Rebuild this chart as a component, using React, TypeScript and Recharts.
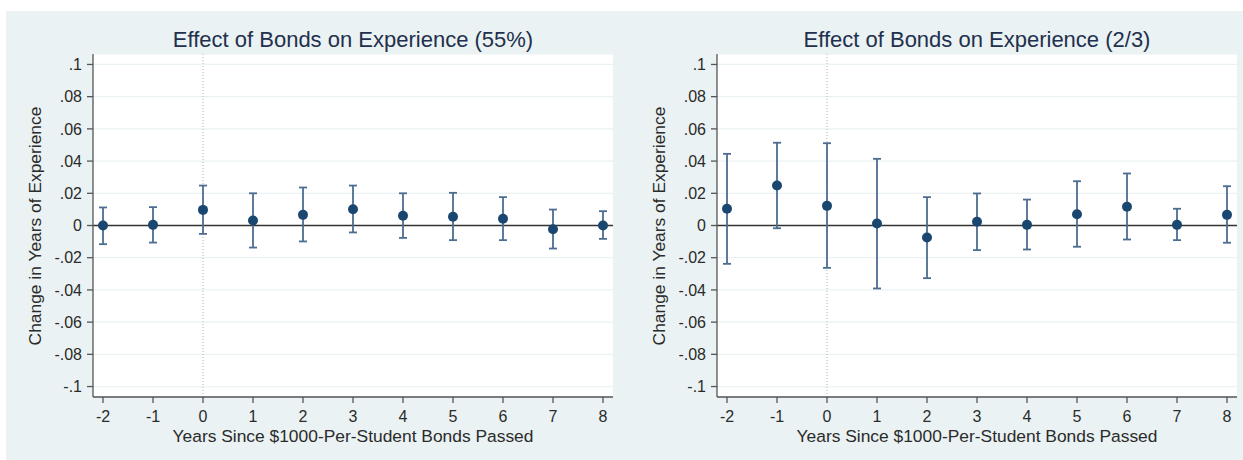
import {
  ScatterChart,
  Scatter,
  XAxis,
  YAxis,
  CartesianGrid,
  ReferenceLine,
  ErrorBar,
} from "recharts";

const years = [-2, -1, 0, 1, 2, 3, 4, 5, 6, 7, 8];

// 55% threshold
const est55 = [0.0, 0.0004, 0.0097, 0.0031, 0.0066, 0.0101, 0.006, 0.0054, 0.0042, -0.0023, 0.0];
const lo55 = [-0.0116, -0.0106, -0.0052, -0.0137, -0.0099, -0.0043, -0.0077, -0.0091, -0.0091, -0.0143, -0.0083];
const hi55 = [0.0112, 0.0114, 0.0248, 0.02, 0.0236, 0.0248, 0.02, 0.0203, 0.0176, 0.0099, 0.0089];

// 2/3 threshold
const est23 = [0.0104, 0.0248, 0.0122, 0.0012, -0.0075, 0.0023, 0.0004, 0.007, 0.0116, 0.0004, 0.0066];
const lo23 = [-0.0238, -0.0017, -0.0263, -0.0391, -0.0327, -0.0153, -0.0149, -0.0132, -0.0087, -0.0091, -0.0107];
const hi23 = [0.0445, 0.0514, 0.0511, 0.0414, 0.0176, 0.0199, 0.0161, 0.0275, 0.0323, 0.0104, 0.0244];

const yTicks = [0.1, 0.08, 0.06, 0.04, 0.02, 0, -0.02, -0.04, -0.06, -0.08, -0.1];
const yTickLabels = [".1", ".08", ".06", ".04", ".02", "0", "-.02", "-.04", "-.06", "-.08", "-.1"];

const titles = ["Effect of Bonds on Experience (55%)", "Effect of Bonds on Experience (2/3)"];
const xLabel = "Years Since $1000-Per-Student Bonds Passed";
const yLabel = "Change in Years of Experience";

const FONT = "'Liberation Sans', Arial, Helvetica, sans-serif";
const BG = "#EAF2F3";
const NAVY = "#1A476F";
const BAR = "#4C6D91";
const TEXT = "#2b2b2b";

const fmtY = (v: number) => {
  const i = yTicks.findIndex((t) => Math.abs(t - v) < 1e-9);
  return i >= 0 ? yTickLabels[i] : String(v);
};

const Dot = (props: any) => <circle cx={props.cx} cy={props.cy} r={5} fill={NAVY} />;

const Panel = ({ left, title, est, lo, hi }: any) => {
  const data = years.map((x, i) => ({ x, y: est[i], err: [est[i] - lo[i], hi[i] - est[i]] }));
  return (
    <div style={{ position: "absolute", left, top: 0, width: 620, height: 460 }}>
      <div
        style={{
          position: "absolute",
          left: 93,
          width: 520,
          top: 27,
          textAlign: "center",
          fontSize: 22,
          color: "#22304d",
          fontFamily: FONT,
          whiteSpace: "nowrap",
        }}
      >
        {title}
      </div>
      <div
        style={{
          position: "absolute",
          left: 93,
          width: 520,
          top: 426,
          textAlign: "center",
          fontSize: 17.4,
          color: TEXT,
          fontFamily: FONT,
          whiteSpace: "nowrap",
        }}
      >
        {xLabel}
      </div>
      <div
        style={{
          position: "absolute",
          left: 35 - 150,
          top: 226 - 10,
          width: 300,
          height: 20,
          lineHeight: "20px",
          textAlign: "center",
          fontSize: 17.4,
          color: TEXT,
          fontFamily: FONT,
          whiteSpace: "nowrap",
          transform: "rotate(-90deg)",
        }}
      >
        {yLabel}
      </div>
      <ScatterChart width={620} height={460} margin={{ top: 54, right: 7, left: 33, bottom: 23 }}>
        <CartesianGrid vertical={false} stroke={BG} strokeWidth={1.2} fill="#ffffff" />
        <XAxis
          type="number"
          dataKey="x"
          domain={[-2.2, 8.2]}
          ticks={years}
          height={40}
          tickSize={6}
          tickMargin={8}
          stroke="#555"
          strokeWidth={1.3}
          tick={{ fill: TEXT, fontSize: 16, fontFamily: FONT }}
          allowDataOverflow
        />
        <YAxis
          type="number"
          dataKey="y"
          domain={[-0.1065, 0.1065]}
          ticks={yTicks}
          tickFormatter={fmtY}
          width={60}
          tickSize={6}
          tickMargin={5}
          stroke="#555"
          strokeWidth={1.3}
          tick={{ fill: TEXT, fontSize: 16, fontFamily: FONT }}
          allowDataOverflow
        />
        <ReferenceLine x={0} stroke="#b0b0b0" strokeDasharray="1 2" />
        <ReferenceLine y={0} stroke="#333" strokeWidth={1.6} />
        <Scatter data={data} fill={NAVY} shape={Dot} isAnimationActive={false}>
          <ErrorBar dataKey="err" direction="y" width={4} stroke={BAR} strokeWidth={1.8} />
        </Scatter>
      </ScatterChart>
    </div>
  );
};

export default function App() {
  return (
    <div style={{ position: "absolute", left: 0, top: 0, width: 1243, height: 460, background: "#fff" }}>
      <div style={{ position: "absolute", left: 6, top: 11, width: 1237, height: 449, background: BG }} />
      <Panel left={0} title={titles[0]} est={est55} lo={lo55} hi={hi55} />
      <Panel left={624} title={titles[1]} est={est23} lo={lo23} hi={hi23} />
    </div>
  );
}
